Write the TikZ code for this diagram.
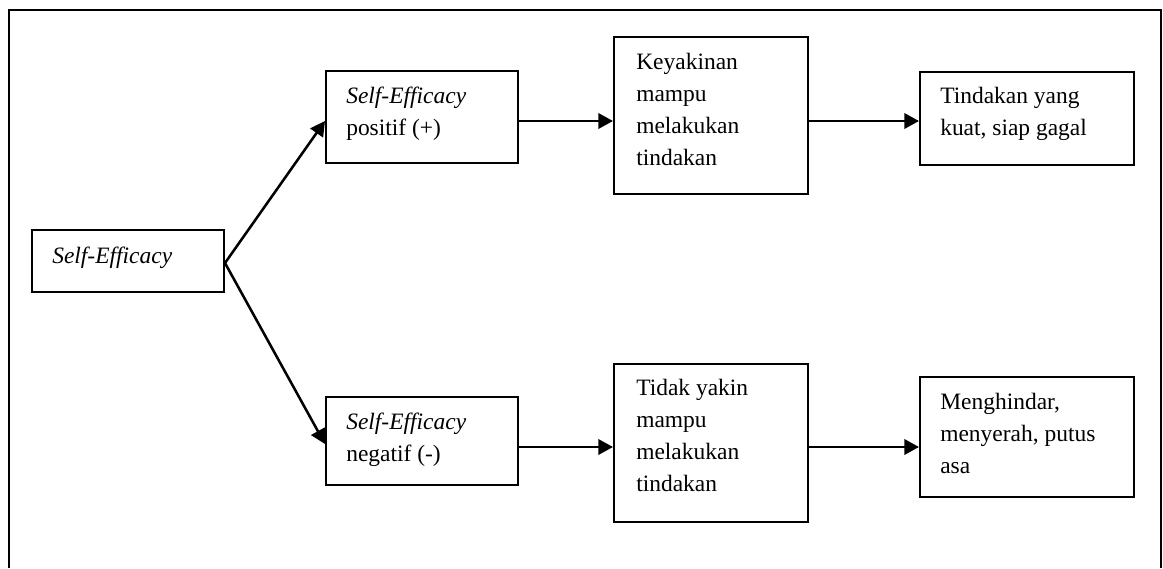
\documentclass[tikz,border=0pt]{standalone}
\usepackage{fontspec}
\setmainfont{Liberation Serif}
\usetikzlibrary{arrows.meta,calc}
\begin{document}
\begin{tikzpicture}[x=0.75pt,y=-0.75pt,
 box/.style={draw, line width=1.5pt, rectangle, inner sep=0pt, anchor=north west},
 txt/.style={inner sep=0pt, align=left, anchor=north west, font=\fontsize{17.6}{24}\selectfont},
 arr/.style={line width=1.9pt, -{Triangle[length=11pt,width=11.5pt]}}]
\useasboundingbox (0,0) rectangle (1163,568);
\draw[line width=1.5pt] (9,568) -- (9,10) -- (1161,10) -- (1161,568);
% boxes
\node[box, minimum width=144pt, minimum height=46.5pt] (se) at (31,229) {};
\node[box, minimum width=144pt, minimum height=69pt] (pos) at (325,70) {};
\node[box, minimum width=144pt, minimum height=66pt] (neg) at (325,396) {};
\node[box, minimum width=145.5pt, minimum height=118pt] (key) at (613,36) {};
\node[box, minimum width=145.5pt, minimum height=118.5pt] (tid) at (613,363) {};
\node[box, minimum width=160.5pt, minimum height=69.75pt] (tin) at (919,71) {};
\node[box, minimum width=160.5pt, minimum height=90pt] (men) at (919,376) {};
% texts
\node[txt, anchor=base west] (tse) at (52,263) {\textit{Self-Efficacy}};
\node[txt] (tpos) at (346,87) {\textit{Self-Efficacy}\\positif (+)};
\node[txt] (tneg) at (346,413) {\textit{Self-Efficacy}\\negatif (-)};
\node[txt] (tkey) at (636,53) {Keyakinan\\mampu\\melakukan\\tindakan};
\node[txt] (ttid) at (636,379) {Tidak yakin\\mampu\\melakukan\\tindakan};
\node[txt] (ttin) at (940,87) {Tindakan yang\\kuat, siap gagal};
\node[txt] (tmen) at (940,393) {Menghindar,\\menyerah, putus\\asa};
% arrows
\coordinate (yA) at (0,121);
\coordinate (yB) at (0,447);
\coordinate (yS) at (0,263);
\coordinate (yN) at (0,444);
\draw[arr] (se.east |- yS) -- (pos.west |- yA);
\draw[arr] (se.east |- yS) -- (neg.west |- yN);
\draw[arr] (pos.east |- yA) -- (key.west |- yA);
\draw[arr] (key.east |- yA) -- (tin.west |- yA);
\draw[arr] (neg.east |- yB) -- (tid.west |- yB);
\draw[arr] (tid.east |- yB) -- (men.west |- yB);
\end{tikzpicture}
\end{document}
